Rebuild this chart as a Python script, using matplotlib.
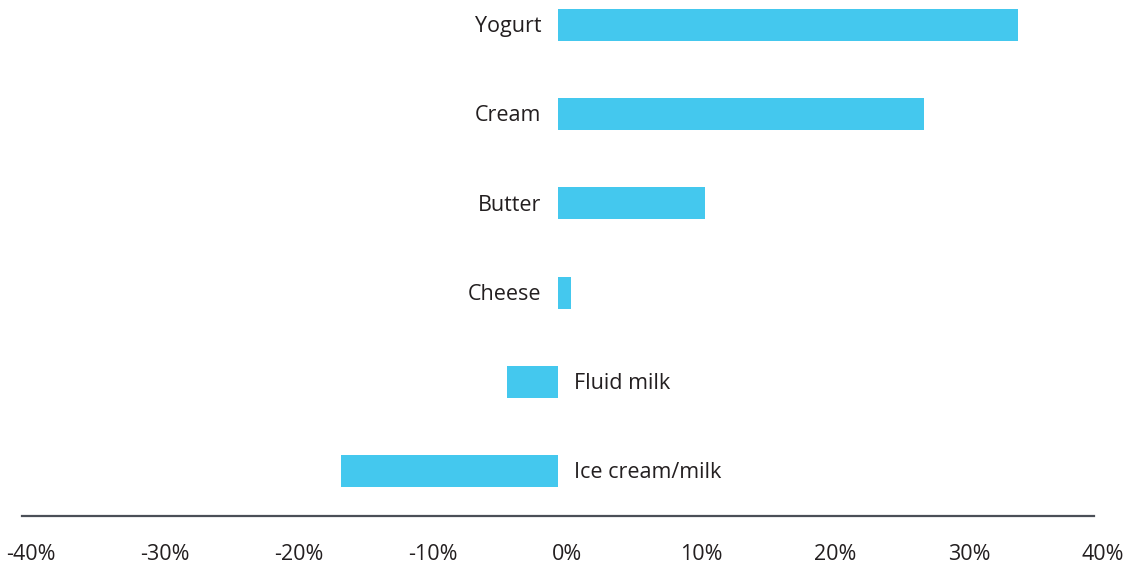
import matplotlib.pyplot as plt
import matplotlib.transforms as mtransforms

# data (bottom to top)
categories = ["Ice cream/milk", "Fluid milk", "Cheese", "Butter", "Cream", "Yogurt"]
values = [-16.2, -3.8, 1.0, 11.0, 27.3, 34.3]
tick_values = [-40, -30, -20, -10, 0, 10, 20, 30, 40]
tick_labels = ["-40%", "-30%", "-20%", "-10%", "0%", "10%", "20%", "30%", "40%"]

plt.rcParams['font.family'] = ['Open Sans', 'DejaVu Sans']
text_color = "#231f20"

fig = plt.figure(figsize=(11.29, 5.63), dpi=100)
ax = fig.add_axes([22 / 1129, 47 / 563, 1072 / 1129, 516 / 563])

ypos = list(range(len(categories)))
ax.barh(ypos, values, height=0.36, color="#44c8ee")

# category labels on the opposite side of zero
for y, v, name in zip(ypos, values, categories):
    if v >= 0:
        ax.text(-1.25, y - 0.02, name, ha="right", va="center", fontsize=15.5, color=text_color)
    else:
        ax.text(1.2, y - 0.02, name, ha="left", va="center", fontsize=15.5, color=text_color)

ax.set_xlim(-40, 40)
ax.set_ylim(-0.504, 5.28)
ax.set_yticks([])
ax.set_xticks(tick_values)
ax.set_xticklabels(tick_labels, fontsize=15.5, color=text_color)
ax.tick_params(axis="x", length=0, pad=20)

# labels sit a little right of their ticks in the original
offset = mtransforms.ScaledTranslation(9 / 100, 0, fig.dpi_scale_trans)
for lbl in ax.get_xticklabels():
    lbl.set_transform(lbl.get_transform() + offset)

for side in ["top", "right", "left"]:
    ax.spines[side].set_visible(False)
ax.spines["bottom"].set_color("#4a4f57")
ax.spines["bottom"].set_linewidth(1.6)

fig.savefig("out.png", dpi=100)
